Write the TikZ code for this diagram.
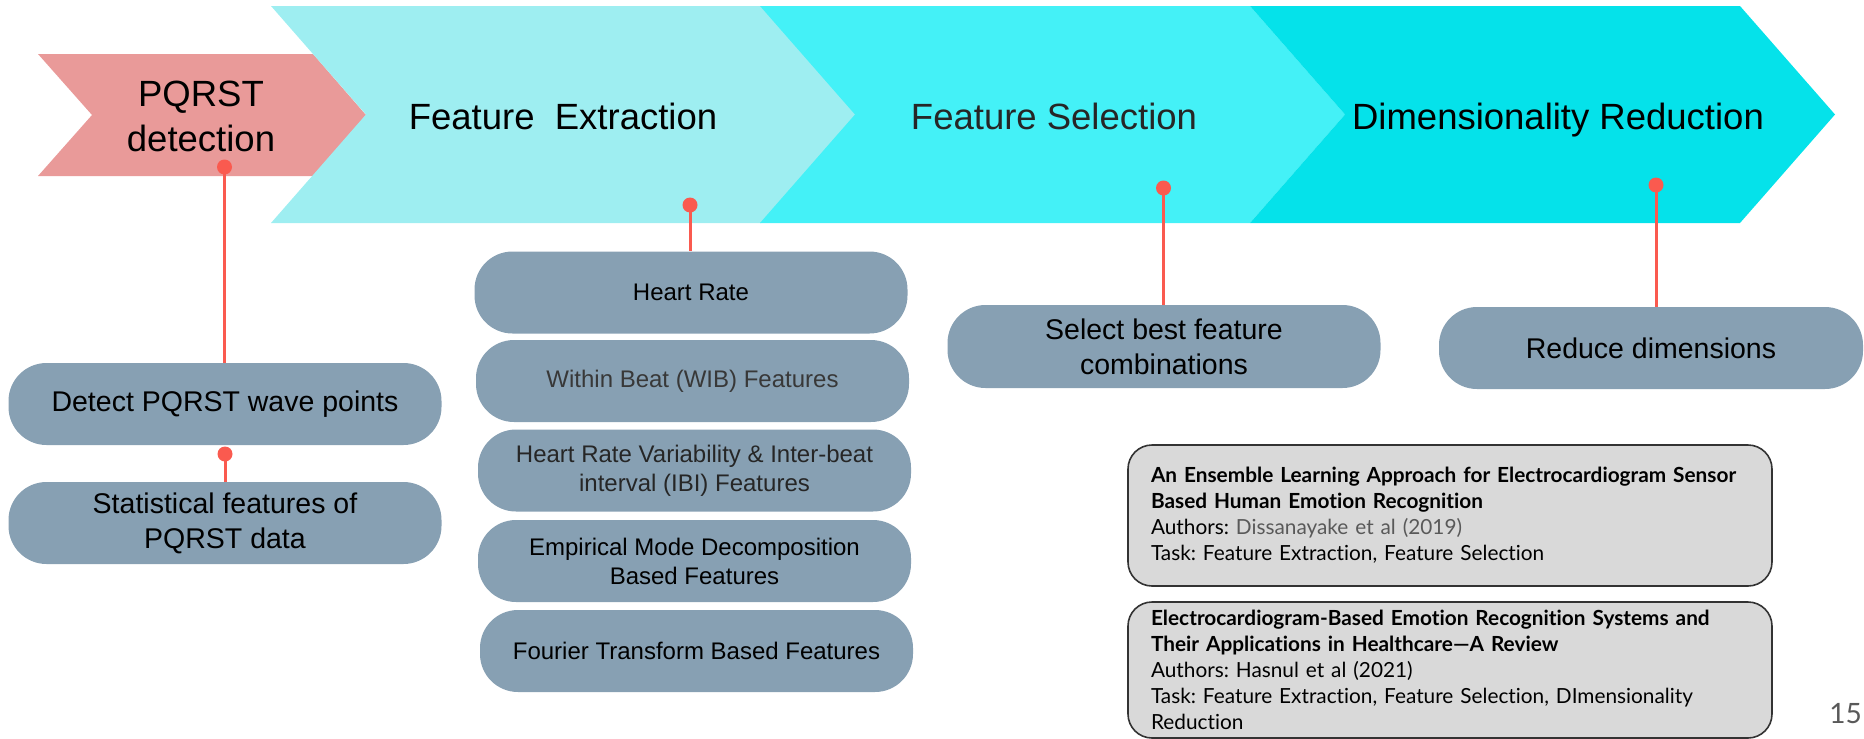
\documentclass[tikz,border=0pt]{standalone}
\usepackage{fontspec}
\setmainfont{Liberation Sans}
\newfontfamily\latofont[Ligatures={TeX,NoCommon}]{Lato}
\usetikzlibrary{positioning}
\definecolor{pqrstpink}{HTML}{E99A99}
\definecolor{extractblue}{HTML}{9EEEF1}
\definecolor{selectblue}{HTML}{44F1F7}
\definecolor{reduceblue}{HTML}{05E2EA}
\definecolor{boxgray}{HTML}{87A0B3}
\definecolor{linkred}{HTML}{FA5A4F}
\definecolor{refgray}{HTML}{D9D9D9}
\definecolor{authgray}{HTML}{595959}
\tikzset{
    taskbox/.style={fill=boxgray, rounded corners=38pt, minimum width=433pt, minimum height=82pt,
        align=center, inner sep=0pt, font=\fontsize{24}{29}\selectfont},
    bigtask/.style={taskbox, font=\fontsize{28.5}{35}\selectfont},
    stagetitle/.style={anchor=base, inner sep=0pt, font=\fontsize{36.5}{45}\selectfont},
    link/.style={draw=linkred, line width=3pt},
    refbox/.style={draw=black!80, line width=1.6pt, fill=refgray, rounded corners=24pt,
        text width=598pt, inner xsep=23pt, inner ysep=0pt, align=left,
        font=\latofont\frenchspacing\fontsize{20.8}{26}\selectfont}
}
\newcommand{\drawChevron}[2]{
    \fill[#2] (#1,6) -- ++(490,0) -- ++(95,108.5) -- ++(-95,108.5) -- ++(-490,0) -- ++(95,-108.5) -- cycle
}
\newcommand{\drawDot}[1]{
    \fill[linkred] (#1) circle (7.5pt)
}

\begin{document}
\begin{tikzpicture}[x=1pt, y=-1pt]
    \useasboundingbox (0,0) rectangle (1864,739);

    % stage arrows
    \fill[pqrstpink] (38,54) -- (313,54) -- (366,115) -- (313,176) -- (38,176) -- (92,115) -- cycle;
    \drawChevron{271}{extractblue};
    \drawChevron{760}{selectblue};
    \drawChevron{1250}{reduceblue};

    \node[align=center, inner sep=0pt, font=\fontsize{36.5}{45}\selectfont] (pqrst) at (201,116) {PQRST\\detection};
    \node[stagetitle] (extract) at (563,129) {Feature\ \ Extraction};
    \node[stagetitle, text=black!85] (select) at (1054,129) {Feature Selection};
    \node[stagetitle] (reduce) at (1558,129) {Dimensionality Reduction};

    % task boxes
    \node[bigtask] (detect) at (225,404) {Detect PQRST wave points};
    \node[bigtask] (stats) at (225,523) {Statistical features of\\PQRST data};

    \node[taskbox] (hr) at (691,292.5) {Heart Rate};
    \node[taskbox, text=black!78] (wib) at (692.5,381) {Within Beat (WIB) Features};
    \node[taskbox, text=black!85] (hrv) at (694.5,470.5) {Heart Rate Variability \& Inter-beat\\interval (IBI) Features};
    \node[taskbox] (emd) at (694.5,561) {Empirical Mode Decomposition\\Based Features};
    \node[taskbox] (ft) at (696.5,651) {Fourier Transform Based Features};

    \node[bigtask, minimum height=83pt] (best) at (1164,346.5) {Select best feature\\combinations};
    \node[bigtask, minimum width=424pt] (dims) at (1651,348) {Reduce dimensions};

    % links
    \coordinate (pqrstdot) at (224.5,167);
    \coordinate (statsdot) at (225,454);
    \coordinate (extractdot) at (690,205);
    \coordinate (selectdot) at (1163.5,188);
    \coordinate (reducedot) at (1656,185);

    \draw[link] (pqrstdot) -- (pqrstdot |- detect.north);
    \draw[link] (statsdot) -- (statsdot |- stats.north);
    \draw[link] (extractdot) -- (extractdot |- hr.north);
    \draw[link] (selectdot) -- (selectdot |- best.north);
    \draw[link] (reducedot) -- (reducedot |- dims.north);

    \drawDot{pqrstdot};
    \drawDot{statsdot};
    \drawDot{extractdot};
    \drawDot{selectdot};
    \drawDot{reducedot};

    % papers
    \node[refbox, minimum height=141pt] (paperA) at (1450,515.5) {\textbf{An Ensemble Learning Approach for Electrocardiogram Sensor}\\\textbf{Based Human Emotion Recognition}\\Authors: {\color{authgray}Dissanayake et al (2019)}\\Task: Feature Extraction, Feature Selection};
    \node[refbox, minimum height=136pt] (paperB) at (1450,670) {\textbf{Electrocardiogram-Based Emotion Recognition Systems and}\\\textbf{Their Applications in Healthcare—A Review}\\Authors: Hasnul et al (2021)\\Task: Feature Extraction, Feature Selection, DImensionality\\Reduction};

    \node[anchor=base east, inner sep=0pt, text=authgray, font=\latofont\fontsize{28}{32}\selectfont] (pagenum) at (1862,723) {15};
\end{tikzpicture}
\end{document}
